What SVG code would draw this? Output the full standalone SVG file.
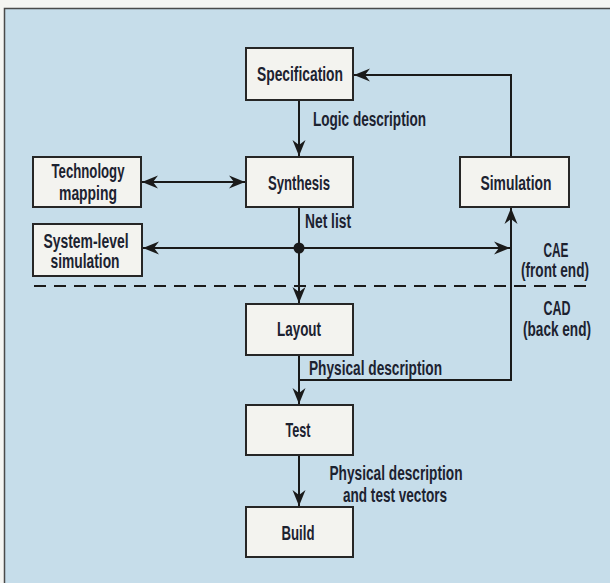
<svg xmlns="http://www.w3.org/2000/svg" width="610" height="583" viewBox="0 0 610 583">
<style>
.box{fill:#f3f3ef;stroke:#262626;stroke-width:2}
.t{font-family:"Liberation Sans Narrow","Liberation Sans",Arial,sans-serif;font-weight:bold;font-size:21px;fill:#1c2230}
.l{font-family:"Liberation Sans Narrow","Liberation Sans",Arial,sans-serif;font-weight:bold;font-size:19.5px;fill:#1c2230}
.m{text-anchor:middle}
.ln{fill:none;stroke:#1a1a1a;stroke-width:2}
.arr{marker-end:url(#ah)}
.arr2{marker-start:url(#ah);marker-end:url(#ah)}
</style>
<defs>
<marker id="ah" viewBox="-17 -7 18 14" refX="0" refY="0" markerWidth="18" markerHeight="14" markerUnits="userSpaceOnUse" orient="auto-start-reverse">
<path d="M0,0 L-16,-6.5 L-11,0 L-16,6.5 Z" fill="#1a1a1a"/>
</marker>
</defs>
<rect x="0" y="0" width="610" height="583" fill="#f5f5f2"/>
<rect x="4.5" y="8.5" width="620" height="600" fill="#c6ddea" stroke="#4a4a4a" stroke-width="1.5"/>
<line x1="34" y1="286" x2="594" y2="286" stroke="#1a1a1a" stroke-width="1.8" stroke-dasharray="12 8"/>
<g id="connectors">
<path class="ln arr" d="M511,157 L511,75 L354,75"/>
<path class="ln arr" d="M299,100 L299,156"/>
<path class="ln arr2" d="M142,182 L245,182"/>
<path class="ln arr" d="M299,207 L299,303"/>
<path class="ln arr" d="M299,248 L143,248"/>
<path class="ln arr" d="M299,248 L510,248"/>
<path class="ln arr" d="M299,380 L511,380 L511,208"/>
<path class="ln arr" d="M299,355 L299,404"/>
<path class="ln arr" d="M299,455 L299,506"/>
<circle cx="299" cy="248" r="5.5" fill="#1a1a1a"/>
<text class="l" x="313" y="126" textLength="113" lengthAdjust="spacingAndGlyphs">Logic description</text>
<text class="l" x="305" y="228" textLength="46" lengthAdjust="spacingAndGlyphs">Net list</text>
<text class="l" x="309" y="375" textLength="133" lengthAdjust="spacingAndGlyphs">Physical description</text>
<text class="l m" x="396" y="480" textLength="133" lengthAdjust="spacingAndGlyphs">Physical description</text>
<text class="l m" x="395" y="502" textLength="104" lengthAdjust="spacingAndGlyphs">and test vectors</text>
</g>
<g id="specification">
<rect class="box" x="246" y="48" width="107" height="52"/>
<text class="t m" x="300" y="81" textLength="86" lengthAdjust="spacingAndGlyphs">Specification</text>
</g>
<g id="technology-mapping">
<rect class="box" x="33" y="157" width="108" height="50"/>
<text class="t m" x="88" y="178" textLength="73" lengthAdjust="spacingAndGlyphs">Technology</text>
<text class="t m" x="88" y="200" textLength="58" lengthAdjust="spacingAndGlyphs">mapping</text>
</g>
<g id="synthesis">
<rect class="box" x="246" y="157" width="107" height="50"/>
<text class="t m" x="299" y="190" textLength="62" lengthAdjust="spacingAndGlyphs">Synthesis</text>
</g>
<g id="simulation">
<rect class="box" x="460" y="157" width="109" height="50"/>
<text class="t m" x="516" y="190" textLength="71" lengthAdjust="spacingAndGlyphs">Simulation</text>
</g>
<g id="system-level-simulation">
<rect class="box" x="33" y="224" width="109" height="52"/>
<text class="t m" x="86" y="248" textLength="85" lengthAdjust="spacingAndGlyphs">System-level</text>
<text class="t m" x="85" y="268" textLength="69" lengthAdjust="spacingAndGlyphs">simulation</text>
</g>
<g id="cae">
<text class="t m" x="556" y="257" textLength="25" lengthAdjust="spacingAndGlyphs">CAE</text>
<text class="t m" x="555" y="277" textLength="68" lengthAdjust="spacingAndGlyphs">(front end)</text>
</g>
<g id="cad">
<text class="t m" x="557" y="315" textLength="27" lengthAdjust="spacingAndGlyphs">CAD</text>
<text class="t m" x="557" y="336" textLength="68" lengthAdjust="spacingAndGlyphs">(back end)</text>
</g>
<g id="layout">
<rect class="box" x="246" y="304" width="107" height="51"/>
<text class="t m" x="299" y="336" textLength="44" lengthAdjust="spacingAndGlyphs">Layout</text>
</g>
<g id="test">
<rect class="box" x="246" y="405" width="107" height="50"/>
<text class="t m" x="298" y="437" textLength="25" lengthAdjust="spacingAndGlyphs">Test</text>
</g>
<g id="build">
<rect class="box" x="246" y="507" width="107" height="50"/>
<text class="t m" x="298" y="540" textLength="33" lengthAdjust="spacingAndGlyphs">Build</text>
</g>
</svg>
